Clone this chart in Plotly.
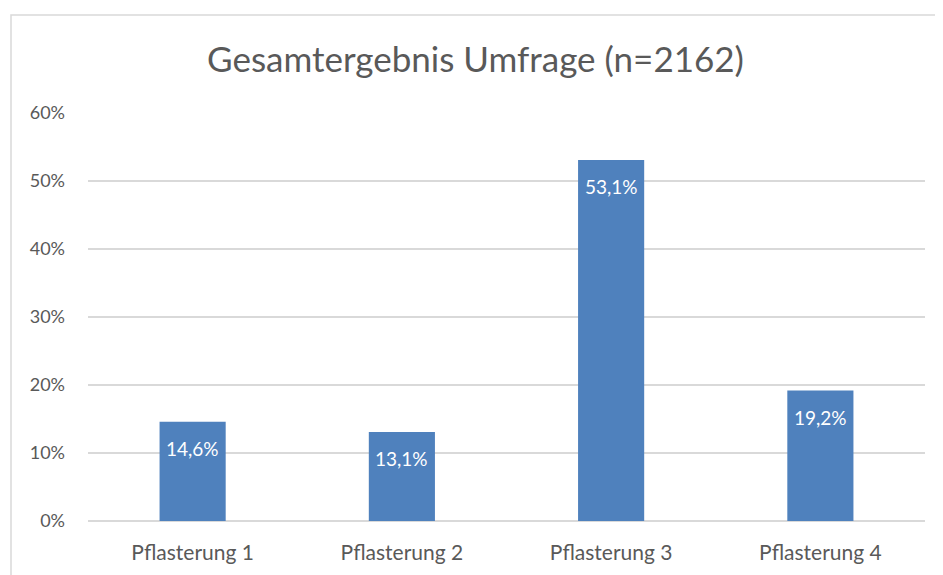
import plotly.graph_objects as go

# **** Data
categories = ["Pflasterung 1", "Pflasterung 2", "Pflasterung 3", "Pflasterung 4"]
shares = [14.6, 13.1, 53.1, 19.2]
tick_values = [0, 10, 20, 30, 40, 50, 60]
tick_labels = ["0%", "10%", "20%", "30%", "40%", "50%", "60%"]

# **** Layout parameters (pixels; page body adds an 8px offset)
W, H = 935, 567
ml, mr, mt, mb = 80, 18, 105, 54
plot_w = W - ml - mr
plot_h = H - mt - mb
grey = "#595959"

fig = go.Figure()
fig.add_trace(
    go.Bar(
        x=categories,
        y=shares,
        marker=dict(color="rgb(79,129,189)", line=dict(width=0)),
        showlegend=False,
        hoverinfo="skip",
    )
)

# value labels near the top inside each bar
for cat, val in zip(categories, shares):
    fig.add_annotation(
        x=cat, y=val,
        text=f"{val:.1f}%".replace(".", ","),
        showarrow=False,
        yanchor="middle",
        yshift=-27,
        font=dict(color="white", size=19),
    )

fig.update_layout(
    width=W,
    height=H,
    margin=dict(l=ml, r=mr, t=mt, b=mb, pad=0),
    plot_bgcolor="white",
    paper_bgcolor="white",
    font=dict(family="Lato, Open Sans, sans-serif", color=grey, size=18),
    bargap=0.684,
    title=dict(
        text="Gesamtergebnis Umfrage (n=2162)",
        x=0.5,
        xanchor="center",
        y=1 - 52 / H,
        yanchor="middle",
        font=dict(size=35, color=grey),
    ),
    xaxis=dict(
        showgrid=False,
        showline=False,
        ticks="",
        ticklabelstandoff=17,
        tickfont=dict(size=21, color=grey),
    ),
    yaxis=dict(
        range=[0, 60],
        tickvals=tick_values,
        ticktext=tick_labels,
        showgrid=True,
        gridcolor="#d9d9d9",
        gridwidth=1.5,
        zeroline=True,
        zerolinecolor="#d9d9d9",
        zerolinewidth=1.5,
        ticks="",
        ticklabelstandoff=22,
        tickfont=dict(size=18, color=grey),
    ),
)

# chart frame (only left and top edges fall inside the picture)
fig.add_shape(
    type="rect",
    xref="paper", yref="paper",
    x0=(3 - ml) / plot_w, x1=(W + 10 - ml) / plot_w,
    y0=-(mb + 10) / plot_h, y1=1 + (mt - 7) / plot_h,
    line=dict(color="#d9d9d9", width=1.5),
    fillcolor="rgba(0,0,0,0)",
    layer="below",
)

fig.write_html("out.html")
